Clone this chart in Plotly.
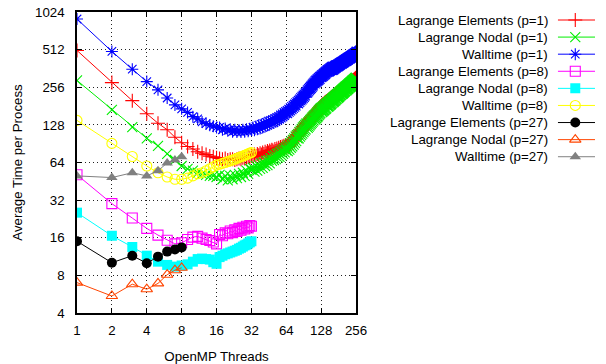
import plotly.graph_objects as go

# ---------------- data ----------------
threads_p1 = list(range(1, 257))
threads_p8 = list(range(1, 33))
threads_p27 = list(range(1, 9))

elem_p1 = [
    504, 279, 200, 157, 132, 117, 102, 92, 86, 82, 78, 76, 74, 72, 71, 70,
    69, 68, 69, 67, 68, 68, 67, 68, 69, 68, 70, 69, 70, 71, 70, 72,
    72, 74, 72, 75, 73, 76, 74, 77, 75, 78, 76, 79, 77, 80, 78, 81,
    80, 78, 82, 79, 83, 80, 84, 81, 85, 82, 86, 83, 87, 84, 88, 86,
    88, 86, 91, 88, 93, 90, 96, 92, 98, 95, 101, 97, 104, 100, 107, 104,
    112, 107, 115, 110, 118, 113, 121, 116, 124, 119, 127, 122, 130, 125, 133, 129,
    135, 130, 138, 133, 141, 136, 144, 139, 147, 142, 150, 145, 153, 148, 156, 152,
    159, 153, 162, 156, 165, 159, 168, 162, 171, 165, 175, 168, 178, 171, 181, 178,
    184, 177, 186, 179, 188, 181, 190, 183, 192, 186, 195, 188, 197, 190, 199, 194,
    200, 193, 202, 195, 204, 197, 206, 200, 208, 202, 211, 204, 213, 207, 215, 211,
    216, 209, 218, 211, 220, 213, 222, 216, 224, 218, 227, 220, 229, 222, 231, 226,
    231, 224, 233, 226, 235, 229, 237, 231, 240, 233, 242, 235, 244, 238, 246, 241,
    246, 239, 248, 241, 250, 244, 252, 246, 255, 248, 257, 250, 259, 253, 261, 256,
    261, 254, 263, 256, 265, 258, 267, 261, 269, 263, 272, 265, 274, 267, 276, 271,
    275, 268, 277, 270, 279, 273, 281, 275, 284, 277, 286, 279, 288, 282, 290, 286,
    290, 283, 292, 285, 294, 287, 296, 290, 298, 292, 301, 294, 303, 296, 305, 302,
]
nodal_p1 = [
    290, 169, 123, 100, 87, 75, 67, 60, 57, 55, 53, 52, 51, 50, 50, 49,
    51, 47, 50, 46, 50, 47, 51, 48, 52, 49, 53, 50, 55, 52, 57, 56,
    58, 54, 60, 55, 61, 57, 63, 58, 64, 60, 66, 61, 67, 63, 69, 66,
    72, 67, 73, 68, 75, 70, 76, 71, 78, 73, 80, 75, 82, 77, 84, 80,
    86, 79, 88, 81, 91, 84, 94, 86, 97, 89, 100, 92, 103, 95, 106, 100,
    108, 100, 112, 103, 115, 106, 119, 109, 122, 112, 125, 115, 128, 118, 131, 124,
    131, 121, 134, 124, 137, 127, 140, 130, 143, 133, 146, 136, 149, 139, 152, 145,
    153, 141, 156, 144, 159, 147, 162, 150, 165, 153, 168, 156, 171, 159, 174, 168,
    175, 162, 177, 164, 179, 166, 181, 168, 183, 170, 185, 172, 188, 174, 190, 183,
    192, 178, 194, 180, 196, 182, 198, 184, 200, 186, 202, 188, 204, 191, 207, 200,
    209, 194, 211, 196, 213, 198, 215, 200, 217, 202, 219, 205, 221, 207, 224, 217,
    226, 210, 228, 212, 230, 214, 232, 216, 234, 219, 236, 221, 238, 223, 241, 233,
    243, 226, 245, 228, 247, 230, 249, 232, 251, 234, 253, 236, 255, 238, 258, 249,
    259, 241, 261, 243, 263, 245, 265, 247, 267, 249, 269, 251, 271, 254, 274, 265,
    275, 256, 277, 258, 279, 260, 281, 262, 283, 264, 285, 266, 287, 269, 290, 280,
    291, 271, 293, 273, 295, 275, 297, 277, 299, 279, 301, 281, 303, 284, 306, 298,
]
wall_p1 = [
    900, 495, 357, 284, 244, 210, 185, 172, 161, 149, 143, 135, 131, 127, 125, 122,
    122, 117, 120, 115, 118, 113, 117, 112, 116, 112, 117, 113, 118, 114, 119, 116,
    122, 116, 124, 118, 127, 120, 129, 122, 131, 124, 134, 127, 137, 129, 139, 132,
    141, 133, 144, 136, 147, 139, 150, 142, 154, 145, 157, 148, 161, 152, 164, 158,
    167, 157, 171, 161, 176, 165, 180, 169, 184, 173, 188, 177, 193, 181, 197, 190,
    202, 188, 207, 193, 212, 198, 217, 202, 222, 207, 227, 212, 233, 217, 238, 230,
    245, 229, 251, 234, 256, 239, 262, 245, 267, 250, 273, 255, 279, 261, 284, 275,
    290, 271, 294, 276, 299, 280, 303, 284, 307, 288, 312, 292, 316, 296, 320, 308,
    324, 304, 328, 308, 332, 312, 336, 316, 340, 319, 344, 323, 348, 327, 352, 342,
    356, 334, 359, 338, 362, 341, 366, 344, 369, 347, 373, 351, 376, 354, 379, 364,
    370, 347, 373, 350, 376, 353, 379, 356, 382, 359, 385, 362, 388, 365, 391, 378,
    393, 369, 396, 372, 399, 375, 402, 378, 404, 380, 407, 383, 410, 386, 412, 398,
    414, 389, 417, 392, 420, 395, 422, 397, 425, 400, 428, 403, 430, 405, 433, 418,
    435, 408, 438, 411, 440, 413, 443, 416, 445, 418, 448, 421, 450, 423, 453, 437,
    455, 427, 458, 430, 460, 432, 463, 435, 465, 437, 468, 440, 470, 442, 473, 456,
    475, 446, 478, 449, 480, 451, 483, 454, 485, 456, 488, 459, 490, 461, 493, 500,
]

elem_p8 = [51, 30, 23, 19, 16.8, 15.3, 14.3, 14.6, 15.5, 16.2, 16.4, 15.9, 15.5, 15.2, 14.8, 14.3,
           17.0, 16.6, 17.5, 17.2, 18.1, 17.6, 18.5, 18.0, 19.0, 18.4, 19.4, 18.8, 19.8, 19.2, 20.0, 19.8]
nodal_p8 = [25.4, 16.6, 13.5, 11.5, 10.3, 9.7, 9.4, 9.6, 9.8, 10.3, 10.8, 10.9, 10.8, 10.7, 10.2, 9.9,
            11.2, 11.5, 11.8, 12.0, 12.2, 12.4, 12.6, 12.8, 13.1, 13.3, 13.6, 13.9, 14.1, 14.4, 14.7, 15.0]
wall_p8 = [139, 91, 71.5, 60, 53, 49, 47, 47, 48, 50, 52, 53, 55, 57, 59, 61,
           62, 63, 64, 65, 66, 67, 68, 69, 70, 71, 72, 73, 74, 75, 76, 77]

elem_p27 = [15, 10.1, 11.5, 10, 11.3, 12.4, 12.9, 13.4]
nodal_p27 = [7.0, 5.47, 6.8, 6.2, 6.9, 8.1, 8.8, 9.2]
wall_p27 = [50, 48.5, 53, 50, 55, 63.5, 67, 71]

x_ticks = [1, 2, 4, 8, 16, 32, 64, 128, 256]
y_ticks = [4, 8, 16, 32, 64, 128, 256, 512, 1024]

series_names = [
    "Lagrange Elements (p=1)", "Lagrange Nodal (p=1)", "Walltime (p=1)",
    "Lagrange Elements (p=8)", "Lagrange Nodal (p=8)", "Walltime (p=8)",
    "Lagrange Elements (p=27)", "Lagrange Nodal (p=27)", "Walltime (p=27)",
]

# ---------------- styles ----------------
styles = [
    dict(color="#ff0000", symbol="cross-thin-open", filled=False),
    dict(color="#00ee00", symbol="x-thin-open", filled=False),
    dict(color="#0000ff", symbol="asterisk-open", filled=False),
    dict(color="#ff00ff", symbol="square-open", filled=False),
    dict(color="#00ffff", symbol="square", filled=True),
    dict(color="#ffff00", symbol="circle-open", filled=False),
    dict(color="#000000", symbol="circle", filled=True),
    dict(color="#ff4500", symbol="triangle-up-open", filled=False),
    dict(color="#808080", symbol="triangle-up", filled=True),
]
xs = [threads_p1] * 3 + [threads_p8] * 3 + [threads_p27] * 3
ys = [elem_p1, nodal_p1, wall_p1, elem_p8, nodal_p8, wall_p8, elem_p27, nodal_p27, wall_p27]

FONT = "Liberation Sans, Arial, Helvetica, sans-serif"
FS = 13.3
MSIZE = 10

def marker_for(st):
    if st["filled"]:
        return dict(symbol=st["symbol"], size=MSIZE, color=st["color"], line=dict(width=0))
    return dict(symbol=st["symbol"], size=MSIZE, color=st["color"],
                line=dict(width=1.1, color=st["color"]))

fig = go.Figure()
for x, y, st, name in zip(xs, ys, styles, series_names):
    fig.add_trace(go.Scatter(x=x, y=y, mode="lines+markers", name=name,
                             line=dict(color=st["color"], width=1),
                             marker=marker_for(st), showlegend=False))

# ---------------- custom legend (text left, sample right, like gnuplot) ----------------
L, R, T, B = 77, 0, 12, 51
W, H = 606, 364
plot_w = W - L - R
plot_h = H - T - B
main_right_px = 362
sample_left_px = 568
text_right_px = 560
row0_px, row_step = 20, 17.09

for i, (st, name) in enumerate(zip(styles, series_names)):
    v = row0_px + row_step * i - T
    fig.add_trace(go.Scatter(x=[0, 1], y=[v, v], mode="lines", xaxis="x2", yaxis="y2",
                             line=dict(color=st["color"], width=1), showlegend=False,
                             hoverinfo="skip"))
    fig.add_trace(go.Scatter(x=[0.47], y=[v], mode="markers", xaxis="x2", yaxis="y2",
                             marker=marker_for(st), showlegend=False, hoverinfo="skip"))
    fig.add_annotation(x=(text_right_px - L) / plot_w, xref="paper", xanchor="right",
                       y=v, yref="y2", yanchor="middle", text=name, showarrow=False,
                       font=dict(family=FONT, size=FS, color="#000"))

axis_common = dict(
    type="log", showline=True, linecolor="#000", linewidth=1.5, mirror="allticks",
    ticks="inside", ticklen=5, tickcolor="#000", tickwidth=1,
    showgrid=True, gridcolor="#222", gridwidth=1, griddash="1px,3px",
    zeroline=False, tickfont=dict(family=FONT, size=FS, color="#000"),
)

fig.update_layout(
    width=W, height=H,
    margin=dict(l=L, r=R, t=T, b=B),
    paper_bgcolor="white", plot_bgcolor="white",
    font=dict(family=FONT, size=FS, color="#000"),
    xaxis=dict(axis_common, domain=[0, (main_right_px - L) / plot_w],
               range=[0, 2.40824], tickvals=x_ticks, ticktext=[str(t) for t in x_ticks],
               ticklabelstandoff=4,
               title=dict(text="OpenMP Threads", standoff=15,
                          font=dict(family=FONT, size=FS, color="#000"))),
    yaxis=dict(axis_common, range=[0.60206, 3.0103], tickvals=y_ticks,
               ticktext=[str(t) for t in y_ticks], ticklabelstandoff=8,
               title=dict(text="Average Time per Process", standoff=9,
                          font=dict(family=FONT, size=FS, color="#000"))),
    xaxis2=dict(domain=[(sample_left_px - L) / plot_w, 1.0], range=[0, 1], visible=False,
                anchor="y2"),
    yaxis2=dict(domain=[0, 1], range=[plot_h, 0], visible=False, anchor="x2"),
)

fig.write_html("out.html", config={"displayModeBar": False},
               post_script="document.body.style.margin='0';")
